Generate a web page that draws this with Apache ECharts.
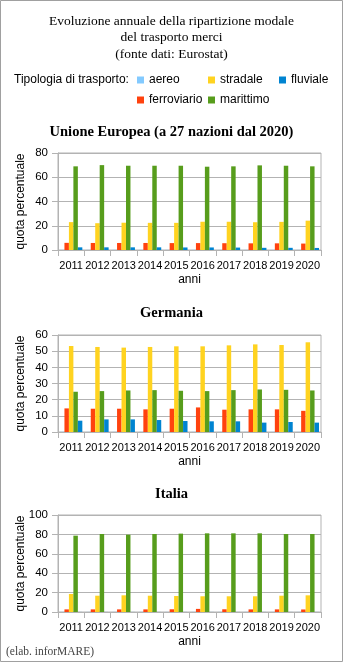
<!DOCTYPE html>
<html>
<head>
<meta charset="utf-8">
<script src="https://cdn.jsdelivr.net/npm/echarts@6/dist/echarts.min.js"></script>
<style>
html,body{margin:0;padding:0;background:#fff;}
#chart{width:343px;height:662px;}
</style>
</head>
<body>
<div id="chart"></div>
<script>
const years = ['2011','2012','2013','2014','2015','2016','2017','2018','2019','2020'];
const seriesNames = ['aereo','ferroviario','stradale','marittimo','fluviale'];

// Unione Europea
const euAereo       = [0.1,0.1,0.1,0.1,0.1,0.1,0.1,0.1,0.1,0.1];
const euFerroviario = [5.9,5.8,5.8,5.8,5.7,5.7,5.6,5.5,5.5,5.3];
const euStradale    = [23.0,22.1,22.5,22.4,22.4,23.3,23.3,22.9,23.2,24.2];
const euMarittimo   = [69.0,70.0,69.5,69.5,69.5,68.7,69.0,69.8,69.5,69.0];
const euFluviale    = [2.2,2.2,2.2,2.2,2.1,2.1,2.0,1.8,1.8,1.7];

// Germania
const deAereo       = [0.1,0.1,0.1,0.1,0.1,0.1,0.1,0.1,0.1,0.1];
const deFerroviario = [14.6,14.4,14.4,14.0,14.4,15.2,13.8,14.0,14.0,13.1];
const deStradale    = [53.2,52.6,52.2,52.6,53.0,53.0,53.6,54.2,53.8,55.5];
const deMarittimo   = [24.9,25.3,25.7,25.9,25.5,25.3,25.9,26.3,26.1,25.7];
const deFluviale    = [7.0,7.8,7.8,7.4,6.8,6.6,6.6,5.8,6.2,5.8];

// Italia
const itAereo       = [0.1,0.1,0.1,0.1,0.1,0.1,0.1,0.1,0.1,0.1];
const itFerroviario = [2.7,2.7,2.7,2.7,2.8,3.2,2.8,2.7,2.7,2.6];
const itStradale    = [18.6,16.8,17.2,16.8,16.5,16.2,16.2,16.2,16.8,17.2];
const itMarittimo   = [78.7,80.4,79.7,80.4,80.8,81.1,81.1,81.1,80.4,80.4];
const itFluviale    = [0.05,0.05,0.05,0.05,0.05,0.05,0.05,0.05,0.05,0.05];

const panelTitles = ['Unione Europea (a 27 nazioni dal 2020)','Germania','Italia'];
const yMax = [80,60,100];
const yInterval = [20,10,20];

const colors = {aereo:'#83caff', ferroviario:'#ff420e', stradale:'#ffd320', marittimo:'#579d1c', fluviale:'#0084d1'};

const panelData = [
  [euAereo,euFerroviario,euStradale,euMarittimo,euFluviale],
  [deAereo,deFerroviario,deStradale,deMarittimo,deFluviale],
  [itAereo,itFerroviario,itStradale,itMarittimo,itFluviale]
];

const gridTops = [153, 335, 515];
const panelTitleTops = [125, 306, 487];
const sans = "'Liberation Sans', Arial, sans-serif";
const serif = "'Liberation Serif', 'Times New Roman', serif";

const grids = [], xAxes = [], yAxes = [], series = [];
gridTops.forEach((t,i)=>{
  grids.push({left:58, top:t, width:263, height:97, show:true, borderColor:'#b3b3b3', borderWidth:1, backgroundColor:'transparent'});
  xAxes.push({
    type:'category', gridIndex:i, data:years,
    name:'anni', nameLocation:'middle', nameGap:24, nameMoveOverlap:false,
    nameTextStyle:{fontFamily:sans, fontSize:12, color:'#000'},
    axisLine:{lineStyle:{color:'#b3b3b3'}},
    axisTick:{show:true, length:6, lineStyle:{color:'#b3b3b3'}},
    axisLabel:{interval:0, fontFamily:sans, fontSize:11, color:'#000', margin:10},
    splitLine:{show:false}
  });
  yAxes.push({
    type:'value', gridIndex:i, min:0, max:yMax[i], interval:yInterval[i],
    name:'quota percentuale', nameLocation:'middle', nameGap:31, nameRotate:90, nameMoveOverlap:false,
    nameTextStyle:{fontFamily:sans, fontSize:12, color:'#000'},
    axisLine:{show:true, lineStyle:{color:'#b3b3b3'}},
    axisTick:{show:true, length:6, lineStyle:{color:'#b3b3b3'}},
    axisLabel:{fontFamily:sans, fontSize:11.5, color:'#000', margin:10},
    splitLine:{show:true, lineStyle:{color:'#b3b3b3'}}
  });
  seriesNames.forEach((n,k)=>{
    series.push({
      name:n, type:'bar', xAxisIndex:i, yAxisIndex:i,
      data:panelData[i][k],
      barGap:'0%', barCategoryGap:'15%',
      itemStyle:{color:colors[n]},
      emphasis:{disabled:true},
      animation:false
    });
  });
});

const titles = [
  {text:'Evoluzione annuale della ripartizione modale\ndel trasporto merci\n(fonte dati: Eurostat)',
   left:'center', top:13, padding:0,
   textStyle:{fontFamily:serif, fontSize:13.5, fontWeight:'normal', color:'#000', lineHeight:16.5}},
  {text:'Tipologia di trasporto:', left:14, top:74, padding:0,
   textStyle:{fontFamily:sans, fontSize:12, fontWeight:'normal', color:'#000'}},
  {text:'(elab. inforMARE)', left:6, top:646, padding:0,
   textStyle:{fontFamily:serif, fontSize:11.5, fontWeight:'normal', color:'#444'}}
];
panelTitles.forEach((p,i)=>{
  titles.push({text:p, left:'center', top:panelTitleTops[i], padding:0,
    textStyle:{fontFamily:serif, fontSize:14.5, fontWeight:'bold', color:'#000'}});
});

const legendPos = {aereo:[137,74], stradale:[208,74], fluviale:[279,74], ferroviario:[137,94], marittimo:[208,94]};
const legends = Object.keys(legendPos).map(n=>({
  data:[n], left:legendPos[n][0], top:legendPos[n][1], padding:0,
  itemWidth:7, itemHeight:7, icon:'rect', selectedMode:false,
  textStyle:{fontFamily:sans, fontSize:12, color:'#000'}
}));

const chart = echarts.init(document.getElementById('chart'), null, {renderer:'canvas'});
chart.setOption({
  animation:false,
  backgroundColor:'#fff',
  color:seriesNames.map(n=>colors[n]),
  title:titles,
  legend:legends,
  grid:grids,
  xAxis:xAxes,
  yAxis:yAxes,
  series:series,
  graphic:[{type:'rect', shape:{x:0.5,y:0.5,width:342,height:661}, style:{fill:'none', stroke:'#a0a0a0', lineWidth:1}, silent:true}]
});
</script>
</body>
</html>
